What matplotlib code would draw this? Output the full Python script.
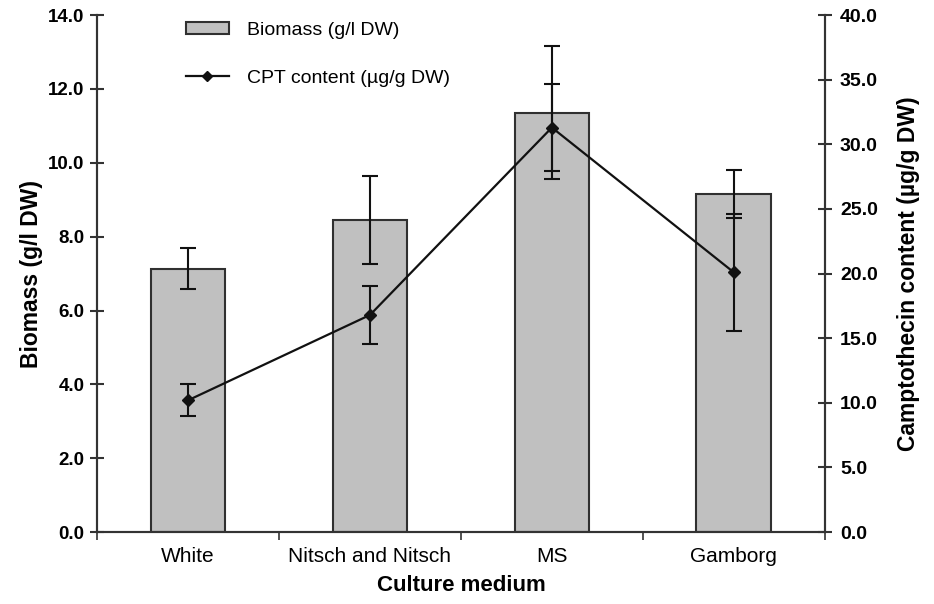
import matplotlib
matplotlib.use("Agg")
import matplotlib.pyplot as plt
from matplotlib.ticker import FixedLocator
import numpy as np

plt.rcParams["font.family"] = ["Liberation Sans", "DejaVu Sans"]

media = ["White", "Nitsch and Nitsch", "MS", "Gamborg"]
biomass = [7.13, 8.46, 11.35, 9.16]
biomass_err = [0.55, 1.19, 1.80, 0.65]
cpt = [10.2, 16.8, 31.3, 20.1]
cpt_err = [1.25, 2.25, 3.4, 4.55]

x = np.arange(len(media)) + 0.5
axis_col = "#333333"

fig = plt.figure(figsize=(9.34, 6.04), dpi=100)
ax = fig.add_axes([0.104, 0.119, 0.779, 0.856])
ax2 = ax.twinx()

ax.bar(x, biomass, width=0.41, color="#c0c0c0", edgecolor="#303030",
       linewidth=1.5, label="Biomass (g/l DW)", zorder=2)
ax.errorbar(x, biomass, yerr=biomass_err, fmt="none", ecolor="#111111",
            elinewidth=1.5, capsize=6, capthick=1.5, zorder=3)

ax2.plot(x, cpt, color="#111111", lw=1.6, marker="D", ms=6,
         label="CPT content (\u00b5g/g DW)", zorder=4)
ax2.errorbar(x, cpt, yerr=cpt_err, fmt="none", ecolor="#111111",
             elinewidth=1.5, capsize=6, capthick=1.5, zorder=4)

ax.set_xlim(0, 4)
ax.set_ylim(0, 14)
ax2.set_ylim(0, 40)
ax.set_yticks(np.arange(0, 14.1, 2))
ax.set_yticklabels([f"{v:.1f}" for v in np.arange(0, 14.1, 2)])
ax2.set_yticks(np.arange(0, 40.1, 5))
ax2.set_yticklabels([f"{v:.1f}" for v in np.arange(0, 40.1, 5)])
ax.set_xticks(x)
ax.set_xticklabels(media, fontsize=15)
ax.tick_params(axis="x", which="major", length=0, pad=11)
# small separators between categories
ax.xaxis.set_minor_locator(FixedLocator(np.arange(0, 4.1, 1)))
ax.tick_params(axis="x", which="minor", direction="out", length=6,
               width=1.2, color=axis_col)

for a, size, pad in ((ax, 13.5, 4), (ax2, 14, 6)):
    a.spines["top"].set_visible(False)
    for s in a.spines.values():
        s.set_color(axis_col)
        s.set_linewidth(1.5)
    a.tick_params(axis="y", direction="inout", length=10, width=1.5,
                  color=axis_col, labelsize=size, pad=pad)
    for lab in a.get_yticklabels():
        lab.set_fontweight("bold")

ax.set_ylabel("Biomass (g/l DW)", fontsize=16.5, fontweight="bold", labelpad=4)
ax2.set_ylabel("Camptothecin content (\u00b5g/g DW)", fontsize=16.5,
               fontweight="bold", labelpad=14)
ax.set_xlabel("Culture medium", fontsize=16, fontweight="bold", labelpad=6)

h1, l1 = ax.get_legend_handles_labels()
h2, l2 = ax2.get_legend_handles_labels()
leg = ax2.legend(h1 + h2, l1 + l2, loc="upper left", bbox_to_anchor=(0.098, 1.021),
                 frameon=False, fontsize=14, handlelength=2.2, handleheight=0.6,
                 labelspacing=1.6, handletextpad=0.95, markerscale=0.85)

fig.savefig("out.png", dpi=100)
